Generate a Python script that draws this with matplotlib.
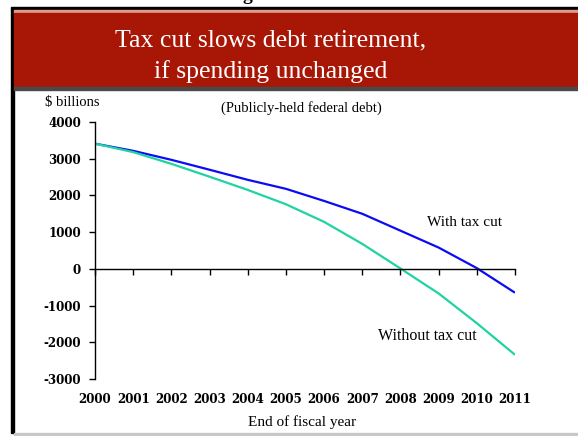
import matplotlib.pyplot as plt
from matplotlib.patches import Rectangle

years = [2000, 2001, 2002, 2003, 2004, 2005, 2006, 2007, 2008, 2009, 2010, 2011]
with_cut = [3410, 3215, 2970, 2700, 2425, 2180, 1850, 1500, 1040, 580, 20, -650]
without_cut = [3410, 3180, 2860, 2510, 2150, 1760, 1280, 680, 10, -670, -1480, -2340]
yticks = [-3000, -2000, -1000, 0, 1000, 2000, 3000, 4000]

W, H = 578, 436
serif = "Liberation Serif"
bold = "DejaVu Serif"

fig = plt.figure(figsize=(W / 100, H / 100), dpi=100)
fig.patch.set_facecolor("white")

def fx(px):
    return px / W

def fy(py):
    return 1 - py / H

# slide frame and red header band
frame = [
    Rectangle((fx(11), fy(10)), fx(578 - 11), 3 / H, color="black"),
    Rectangle((fx(11), fy(433)), fx(3), (433 - 10) / H, color="black"),
    Rectangle((fx(14), fy(13)), fx(578 - 14), 2.5 / H, color="#e29a8e"),
    Rectangle((fx(14), fy(87)), fx(578 - 14), 74 / H, color="#a81606"),
    Rectangle((fx(14), fy(90.5)), fx(578 - 14), 3.5 / H, color="#4a4a4a"),
    Rectangle((fx(14), fy(436)), fx(578 - 14), 3.5 / H, color="#c8c8c8"),
]
for r in frame:
    r.set_transform(fig.transFigure)
    fig.patches.append(r)

# tail of the previous heading, cut off at the top edge
fig.text(fx(247), fy(0.5), "g", fontsize=14, fontweight="bold", family=serif,
         ha="center", va="baseline", color="black")

fig.text(fx(271), fy(46), "Tax cut slows debt retirement,", fontsize=18.5,
         family=serif, color="white", ha="center", va="baseline")
fig.text(fx(271), fy(78), "if spending unchanged", fontsize=18.5,
         family=serif, color="white", ha="center", va="baseline")

ax = fig.add_axes([fx(95), fy(379), fx(515 - 95), (379 - 122) / H])
ax.patch.set_alpha(0)

ax.plot(years, with_cut, color="#0a0cf4", lw=1.6, solid_capstyle="butt")
ax.plot(years, without_cut, color="#1fd3a2", lw=1.6, solid_capstyle="butt")

ax.set_xlim(2000, 2011)
ax.set_ylim(-3000, 4000)

ax.spines["top"].set_visible(False)
ax.spines["right"].set_visible(False)
ax.spines["bottom"].set_position(("data", 0))
ax.spines["left"].set_linewidth(1)
ax.spines["bottom"].set_linewidth(1)

ax.set_xticks(years)
ax.tick_params(axis="x", direction="out", length=4, width=1, labelbottom=False)
ax.set_yticks(yticks)
ax.set_yticklabels([str(v) for v in yticks])
ax.tick_params(axis="y", direction="out", length=4, width=1, pad=6)
for lbl in ax.get_yticklabels():
    lbl.set_family(bold)
    lbl.set_fontweight("bold")
    lbl.set_fontsize(8.6)

# year labels sit below the plot, not on the zero line
sec = ax.secondary_xaxis(0)
sec.set_xticks(years)
sec.set_xticklabels([str(y) for y in years])
sec.spines["bottom"].set_visible(False)
sec.tick_params(length=0, pad=10)
for lbl in sec.get_xticklabels():
    lbl.set_family(bold)
    lbl.set_fontweight("bold")
    lbl.set_fontsize(8.6)

fig.text(fx(72), fy(106), "$ billions", fontsize=10.5, family=serif,
         ha="center", va="baseline")
fig.text(fx(301), fy(112), "(Publicly-held federal debt)", fontsize=10.5,
         family=serif, ha="center", va="baseline")
ax.text(2009.68, 1160, "With tax cut", fontsize=11, family=serif, ha="center",
        va="baseline")
ax.text(2008.71, -1950, "Without tax cut", fontsize=11.5, family=serif,
        ha="center", va="baseline")
fig.text(fx(302), fy(426), "End of fiscal year", fontsize=11, family=serif,
         ha="center", va="baseline")

fig.savefig("out.png", dpi=100)
